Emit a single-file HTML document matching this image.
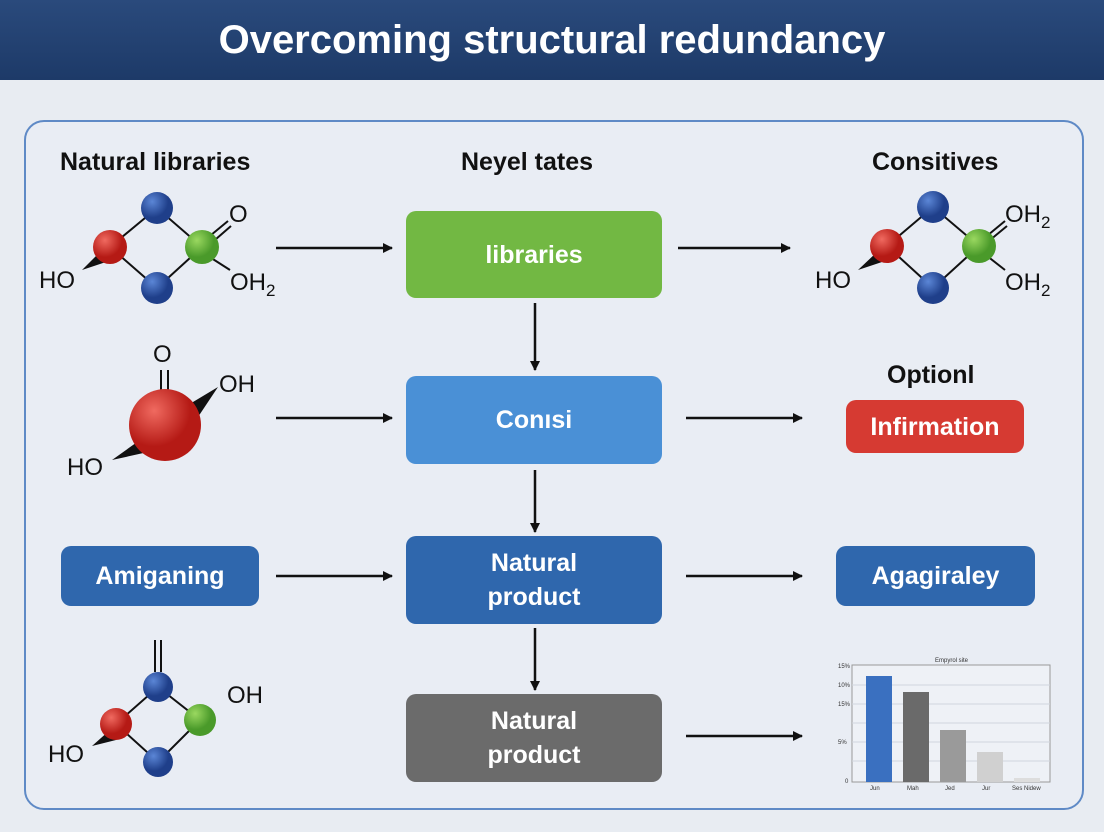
<!DOCTYPE html><html><head><style>
body{margin:0;width:1104px;height:832px;background:#e8ecf2;font-family:"Liberation Sans",sans-serif;position:relative;overflow:hidden}
.hd{position:absolute;left:0;top:0;width:1104px;height:80px;background:linear-gradient(#2a4a7c,#1d3a68);color:#fff;font-size:40px;font-weight:bold;text-align:center;line-height:80px}
.pn{position:absolute;left:24px;top:120px;width:1056px;height:686px;border:2px solid #5f8ac6;border-radius:20px;background:#e9edf4}
.b{position:absolute;border-radius:10px;color:#fff;font-weight:bold;font-size:25px;display:flex;align-items:center;justify-content:center;text-align:center;line-height:34px}
.t{position:absolute;font-weight:bold;font-size:25px;color:#111}
</style></head><body>
<div class="hd">Overcoming structural redundancy</div>
<div class="pn"></div>
<div class="t" style="left:60px;top:148px">Natural libraries</div>
<div class="t" style="left:461px;top:148px">Neyel tates</div>
<div class="t" style="left:872px;top:148px">Consitives</div>
<div class="t" style="left:887px;top:361px">Optionl</div>
<div class="b" style="left:406px;top:211px;width:256px;height:87px;background:#72b843">libraries</div>
<div class="b" style="left:406px;top:376px;width:256px;height:88px;background:#4a90d6">Conısi</div>
<div class="b" style="left:406px;top:536px;width:256px;height:88px;background:#2f67ad">Natural<br>product</div>
<div class="b" style="left:406px;top:694px;width:256px;height:88px;background:#6b6b6b">Natural<br>product</div>
<div class="b" style="left:61px;top:546px;width:198px;height:60px;background:#2f67ad">Amiganing</div>
<div class="b" style="left:836px;top:546px;width:199px;height:60px;background:#2f67ad">Agagiraley</div>
<div class="b" style="left:846px;top:400px;width:178px;height:53px;background:#d63a32">Infirmation</div>
<svg width="1104" height="832" style="position:absolute;left:0;top:0">
<defs>
<marker id="a" markerWidth="10" markerHeight="10" refX="9" refY="5" orient="auto" markerUnits="userSpaceOnUse"><path d="M0,0L10,5L0,10z" fill="#111"/></marker>
<radialGradient id="r" cx=".35" cy=".3"><stop offset="0" stop-color="#f06a60"/><stop offset="1" stop-color="#b51a15"/></radialGradient>
<radialGradient id="bl" cx=".35" cy=".3"><stop offset="0" stop-color="#5b86d6"/><stop offset="1" stop-color="#1f3f8a"/></radialGradient>
<radialGradient id="g" cx=".35" cy=".3"><stop offset="0" stop-color="#9ad860"/><stop offset="1" stop-color="#4a9a2a"/></radialGradient>
</defs>
<g stroke="#111" stroke-width="2.5" marker-end="url(#a)">
<line x1="276" y1="248" x2="392" y2="248"/><line x1="678" y1="248" x2="790" y2="248"/>
<line x1="276" y1="418" x2="392" y2="418"/><line x1="686" y1="418" x2="802" y2="418"/>
<line x1="276" y1="576" x2="392" y2="576"/><line x1="686" y1="576" x2="802" y2="576"/>
<line x1="686" y1="736" x2="802" y2="736"/>
<line x1="535" y1="303" x2="535" y2="370"/><line x1="535" y1="470" x2="535" y2="532"/><line x1="535" y1="628" x2="535" y2="690"/>
</g>
<g stroke="#111" stroke-width="2" fill="none">
<path d="M110,247L157,208L202,247L157,288Z"/><line x1="205" y1="240" x2="228" y2="221"/><line x1="208" y1="246" x2="231" y2="226"/><line x1="205" y1="254" x2="230" y2="270"/>
<path d="M887,246L933,207L979,246L933,288Z"/><line x1="982" y1="240" x2="1005" y2="221"/><line x1="984" y1="245" x2="1007" y2="226"/><line x1="982" y1="252" x2="1005" y2="270"/>
<line x1="161" y1="370" x2="161" y2="392"/><line x1="168" y1="370" x2="168" y2="392"/>
<path d="M116,724L158,687L200,720L158,762Z"/><line x1="155" y1="640" x2="155" y2="672"/><line x1="161" y1="640" x2="161" y2="672"/>
</g>
<path d="M82,270L100,252L106,262Z" fill="#111"/><path d="M858,270L877,252L882,262Z" fill="#111"/>
<path d="M188,405L218,387L196,420Z" fill="#111"/><path d="M112,460L140,440L148,452Z" fill="#111"/>
<path d="M92,746L110,730L116,740Z" fill="#111"/>
<circle cx="157" cy="208" r="16" fill="url(#bl)"/><circle cx="110" cy="247" r="17" fill="url(#r)"/><circle cx="202" cy="247" r="17" fill="url(#g)"/><circle cx="157" cy="288" r="16" fill="url(#bl)"/>
<circle cx="933" cy="207" r="16" fill="url(#bl)"/><circle cx="887" cy="246" r="17" fill="url(#r)"/><circle cx="979" cy="246" r="17" fill="url(#g)"/><circle cx="933" cy="288" r="16" fill="url(#bl)"/>
<circle cx="165" cy="425" r="36" fill="url(#r)"/>
<circle cx="158" cy="687" r="15" fill="url(#bl)"/><circle cx="116" cy="724" r="16" fill="url(#r)"/><circle cx="200" cy="720" r="16" fill="url(#g)"/><circle cx="158" cy="762" r="15" fill="url(#bl)"/>
<g font-family="Liberation Sans" font-size="24" fill="#111">
<text x="39" y="288">HO</text><text x="229" y="222">O</text><text x="230" y="290">OH<tspan font-size="17" dy="6">2</tspan></text>
<text x="815" y="288">HO</text><text x="1005" y="222">OH<tspan font-size="17" dy="6">2</tspan></text><text x="1005" y="290">OH<tspan font-size="17" dy="6">2</tspan></text>
<text x="153" y="362">O</text><text x="219" y="392">OH</text><text x="67" y="475">HO</text>
<text x="227" y="703">OH</text><text x="48" y="762">HO</text>
</g>
<g>
<rect x="852" y="665" width="198" height="117" fill="#eef1f6" stroke="#999"/>
<g stroke="#d0d5dd"><line x1="852" y1="685" x2="1050" y2="685"/><line x1="852" y1="704" x2="1050" y2="704"/><line x1="852" y1="723" x2="1050" y2="723"/><line x1="852" y1="742" x2="1050" y2="742"/><line x1="852" y1="761" x2="1050" y2="761"/></g>
<rect x="866" y="676" width="26" height="106" fill="#3a70c0"/><rect x="903" y="692" width="26" height="90" fill="#6a6a6a"/><rect x="940" y="730" width="26" height="52" fill="#9a9a9a"/><rect x="977" y="752" width="26" height="30" fill="#d0d0d0"/><rect x="1014" y="778" width="26" height="4" fill="#ddd"/>
<g font-size="6" fill="#333" font-family="Liberation Sans"><text x="935" y="662">Empyrol site</text><text x="870" y="790">Jun</text><text x="907" y="790">Mah</text><text x="945" y="790">Jed</text><text x="982" y="790">Jur</text><text x="1012" y="790">Ses Nidew</text>
<text x="838" y="668">15%</text><text x="838" y="687">10%</text><text x="838" y="706">15%</text><text x="838" y="744">5%</text><text x="845" y="783">0</text></g>
</g>
</svg>
</body></html>
